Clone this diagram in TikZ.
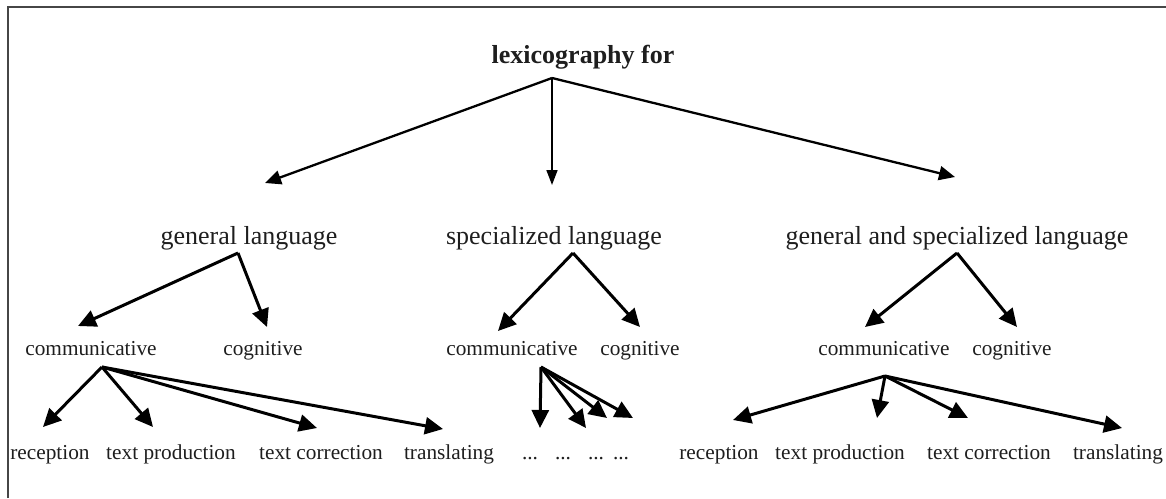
\documentclass[tikz,border=0pt]{standalone}
\usepackage{fontspec}
\setmainfont{Liberation Serif}
\usetikzlibrary{arrows.meta}
\definecolor{txt}{RGB}{30,30,30}
\definecolor{frame}{RGB}{70,70,70}
\begin{document}
\begin{tikzpicture}[x=1pt,y=-1pt,
  lvlone/.style={anchor=base,inner sep=0pt,text=txt,font=\fontsize{26}{30}\selectfont\bfseries},
  lvltwo/.style={anchor=base,inner sep=0pt,text=txt,font=\fontsize{26}{30}\selectfont},
  lvlthree/.style={anchor=base,inner sep=0pt,text=txt,font=\fontsize{21.3}{26}\selectfont},
  toparr/.style={line width=2.3pt,-{Triangle[length=16pt,width=14pt]}},
  thinarr/.style={line width=1.7pt,-{Triangle[length=15pt,width=11pt]}},
  arr/.style={line width=3pt,-{Triangle[length=18pt,width=17pt]}}]
\useasboundingbox (0,0) rectangle (1166,498);
\draw[frame,line width=1.8pt] (8,498) -- (8,7) -- (1166,7);

% level 1
\node[lvlone] (lex) at (583,63) {lexicography for};
% level 2
\node[lvltwo] (gl)  at (249,244) {general language};
\node[lvltwo] (sl)  at (554,244) {specialized language};
\node[lvltwo] (gsl) at (957,244) {general and specialized language};
% level 3
\node[lvlthree] (c1) at (91,355)   {communicative};
\node[lvlthree] (g1) at (263,355)  {cognitive};
\node[lvlthree] (c2) at (512,355)  {communicative};
\node[lvlthree] (g2) at (640,355)  {cognitive};
\node[lvlthree] (c3) at (884,355)  {communicative};
\node[lvlthree] (g3) at (1012,355) {cognitive};
% level 4
\node[lvlthree] (r1)  at (50,459)   {reception};
\node[lvlthree] (tp1) at (171,459)  {text production};
\node[lvlthree] (tc1) at (321,459)  {text correction};
\node[lvlthree] (tr1) at (449,459)  {translating};
\node[lvlthree] (d1)  at (530,459)  {...};
\node[lvlthree] (d2)  at (563,459)  {...};
\node[lvlthree] (d3)  at (596,459)  {...};
\node[lvlthree] (d4)  at (621,459)  {...};
\node[lvlthree] (r3)  at (719,459)  {reception};
\node[lvlthree] (tp3) at (840,459)  {text production};
\node[lvlthree] (tc3) at (989,459)  {text correction};
\node[lvlthree] (tr3) at (1118,459) {translating};

% level 1 -> 2
\draw[toparr]  ([shift={(-31,15)}]lex.base) -- ([shift={(16,-61)}]gl.base);
\draw[thinarr] ([shift={(-31,15)}]lex.base) -- ([shift={(-2,-59)}]sl.base);
\draw[toparr]  ([shift={(-31,15)}]lex.base) -- ([shift={(-2,-67)}]gsl.base);
% level 2 -> 3
\draw[arr] ([shift={(-11,9)}]gl.base) -- ([shift={(-13,-29)}]c1.base);
\draw[arr] ([shift={(-11,9)}]gl.base) -- ([shift={(4,-28)}]g1.base);
\draw[arr] ([shift={(19,9)}]sl.base) -- ([shift={(-14,-24)}]c2.base);
\draw[arr] ([shift={(19,9)}]sl.base) -- ([shift={(0,-28)}]g2.base);
\draw[arr] ([shift={(0,9)}]gsl.base) -- ([shift={(-19,-28)}]c3.base);
\draw[arr] ([shift={(0,9)}]gsl.base) -- ([shift={(5,-28)}]g3.base);
% level 3 -> 4 (left)
\draw[arr] ([shift={(11,12)}]c1.base) -- ([shift={(-7,-32)}]r1.base);
\draw[arr] ([shift={(11,12)}]c1.base) -- ([shift={(-18,-32)}]tp1.base);
\draw[arr] ([shift={(11,12)}]c1.base) -- ([shift={(-4,-31)}]tc1.base);
\draw[arr] ([shift={(11,12)}]c1.base) -- ([shift={(-6,-30)}]tr1.base);
% level 3 -> 4 (middle)
\draw[arr] ([shift={(29,12)}]c2.base) -- ([shift={(10,-31)}]d1.base);
\draw[arr] ([shift={(29,12)}]c2.base) -- ([shift={(23,-31)}]d2.base);
\draw[arr] ([shift={(29,12)}]c2.base) -- ([shift={(11,-41)}]d3.base);
\draw[arr] ([shift={(29,12)}]c2.base) -- ([shift={(12,-41)}]d4.base);
% level 3 -> 4 (right)
\draw[arr] ([shift={(1,21)}]c3.base) -- ([shift={(14,-39)}]r3.base);
\draw[arr] ([shift={(1,21)}]c3.base) -- ([shift={(37,-41)}]tp3.base);
\draw[arr] ([shift={(1,21)}]c3.base) -- ([shift={(-21,-41)}]tc3.base);
\draw[arr] ([shift={(1,21)}]c3.base) -- ([shift={(4,-31)}]tr3.base);
\end{tikzpicture}
\end{document}
